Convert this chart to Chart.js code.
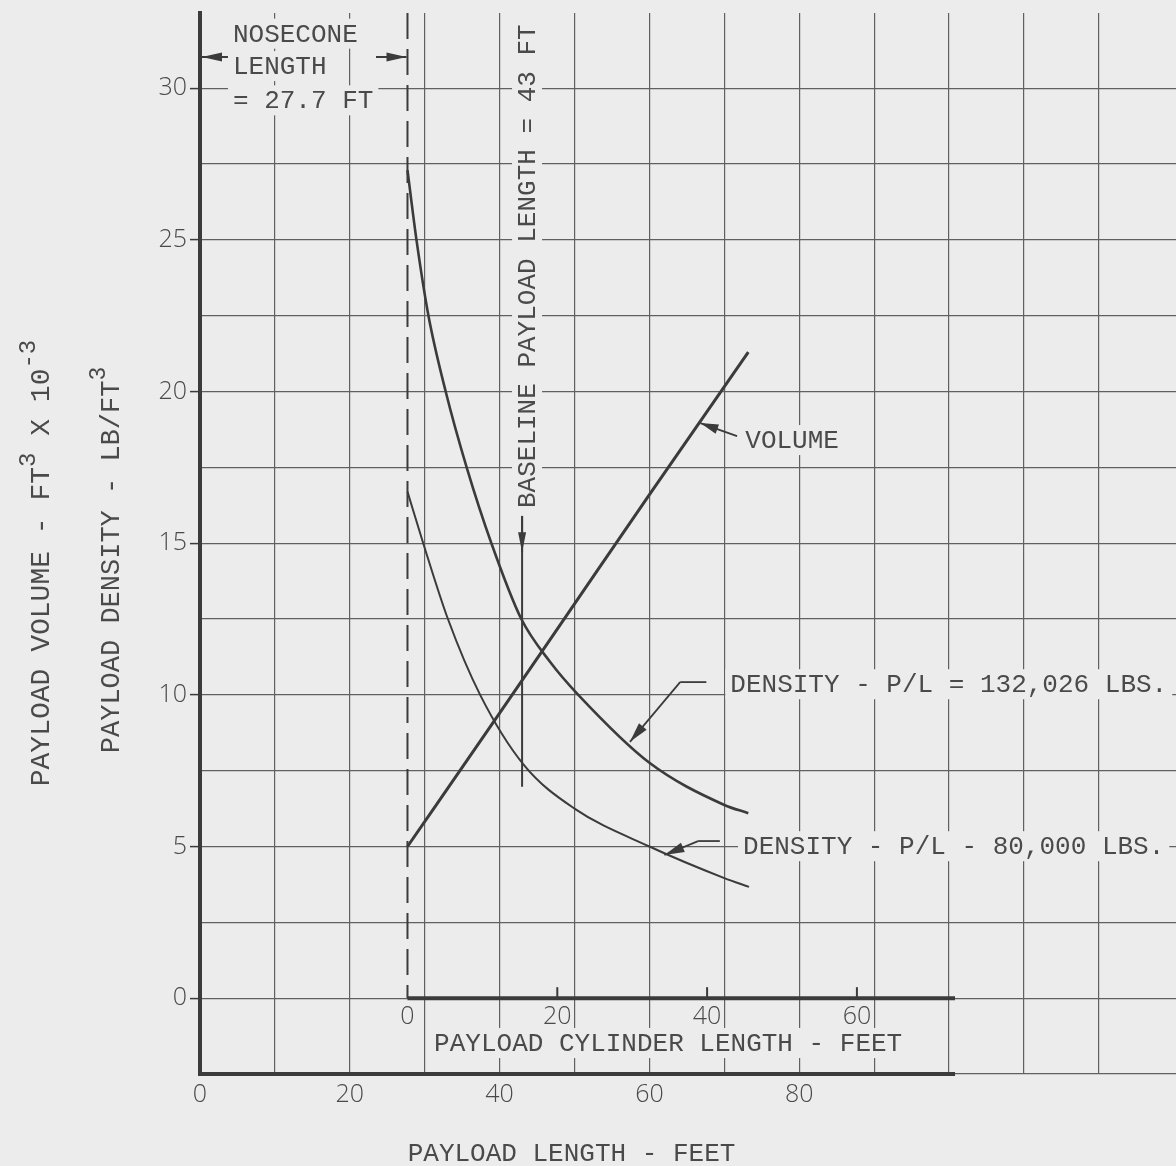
<!DOCTYPE html>
<html>
<head>
<meta charset="utf-8">
<title>Payload density and volume vs payload length</title>
<script src="https://cdn.jsdelivr.net/npm/chart.js@4.4.1/dist/chart.umd.min.js"></script>
<style>
  html, body { margin: 0; padding: 0; background: #ececec; }
</style>
</head>
<body>
<canvas id="chart" width="1176" height="1166"></canvas>
<script>
// payload length (ft, from the nose tip) and the three curves read along it
var volumeLength = [27.7, 40, 50, 60, 73.2];
var volume = [5.0, 9.4, 13.0, 16.6, 21.3];            // ft^3 x 10^-3

var dens132Length = [27.7, 28.9, 30.5, 32.8, 35.6, 38.9, 42.9, 46.7, 50.5, 60, 70, 73.2];
var dens132 = [27.3, 25, 22.5, 20, 17.5, 15, 12.5, 11.1, 10, 7.76, 6.37, 6.1];   // lb/ft^3

var dens80Length = [27.7, 29.8, 33.1, 37.4, 43.2, 50, 60, 70, 73.3];
var dens80 = [16.7, 15, 12.5, 10, 7.7, 6.25, 5.0, 3.96, 3.67];                    // lb/ft^3

var noseconeLength = 27.7;
var baselineLength = 43;

// tick labels
var lengthLabels = [0, 20, 40, 60, 80];
var cylinderLabels = [0, 20, 40, 60];
var valueLabels = [0, 5, 10, 15, 20, 25, 30];

var INK = '#3b3b3b';
var GRID = '#606060';
var TEXT = '#4a4a4a';
var BG = '#ececec';
var TYPE = "'Liberation Mono', 'DejaVu Sans Mono', monospace";
var LETTERING = { family: "'Open Sans', 'DejaVu Sans', sans-serif", size: 25, weight: '300' };

function pairs(xs, ys) {
  return xs.map(function (v, i) { return { x: v, y: ys[i] }; });
}

function steps(from, to, step) {
  var out = [];
  for (var v = from; v <= to + 1e-9; v += step) out.push({ value: Math.round(v * 10) / 10 });
  return out;
}

function noPadding(scale) {
  scale.paddingLeft = scale.paddingRight = scale.paddingTop = scale.paddingBottom = 0;
}

// line with a filled head at (x2, y2)
function arrow(ctx, x1, y1, x2, y2, len, half) {
  len = len || 18; half = half || 4.5;
  var a = Math.atan2(y2 - y1, x2 - x1);
  ctx.beginPath();
  ctx.moveTo(x1, y1);
  ctx.lineTo(x2, y2);
  ctx.stroke();
  ctx.beginPath();
  ctx.moveTo(x2, y2);
  ctx.lineTo(x2 - len * Math.cos(a) + half * Math.sin(a), y2 - len * Math.sin(a) - half * Math.cos(a));
  ctx.lineTo(x2 - len * Math.cos(a) - half * Math.sin(a), y2 - len * Math.sin(a) + half * Math.cos(a));
  ctx.closePath();
  ctx.fill();
}

// typed text on a cleared patch of the grid
function typed(ctx, text, x, y, align) {
  ctx.font = '26px ' + TYPE;
  ctx.textAlign = align || 'left';
  ctx.textBaseline = 'middle';
  var w = ctx.measureText(text).width;
  var left = align === 'center' ? x - w / 2 : x;
  ctx.fillStyle = BG;
  ctx.fillRect(left - 5, y - 15, w + 10, 30);
  ctx.fillStyle = TEXT;
  ctx.fillText(text, x, y + 1);
}

// centred text with raised parts, optionally turned to read bottom-up
function rich(ctx, parts, cx, cy, size, turned) {
  var sup = Math.round(size * 0.85);
  ctx.save();
  ctx.translate(cx, cy);
  if (turned) ctx.rotate(-Math.PI / 2);
  ctx.textAlign = 'left';
  ctx.textBaseline = 'middle';
  var total = 0;
  parts.forEach(function (p) {
    ctx.font = (p.sup ? sup : size) + 'px ' + TYPE;
    p.w = ctx.measureText(p.t).width;
    total += p.w;
  });
  var x = -total / 2;
  ctx.fillStyle = TEXT;
  parts.forEach(function (p) {
    ctx.font = (p.sup ? sup : size) + 'px ' + TYPE;
    ctx.fillText(p.t, x, p.sup ? -12 : 1);
    x += p.w;
  });
  ctx.restore();
}

var sheet = {
  id: 'sheet',
  beforeDraw: function (chart) {
    var ctx = chart.ctx;
    ctx.save();
    ctx.fillStyle = BG;
    ctx.fillRect(0, 0, chart.width, chart.height);
    ctx.restore();
  },
  afterDatasetsDraw: function (chart) {
    var ctx = chart.ctx;
    var x = chart.scales.x, y = chart.scales.y;
    var px = function (v) { return x.getPixelForValue(v); };
    var py = function (v) { return y.getPixelForValue(v); };
    var axisEnd = 100.8;

    ctx.save();
    ctx.strokeStyle = INK;
    ctx.fillStyle = INK;
    ctx.lineCap = 'butt';

    // heavy base lines for both length scales
    ctx.lineWidth = 4;
    ctx.beginPath();
    ctx.moveTo(px(0) - 2, py(-2.5));
    ctx.lineTo(px(axisEnd), py(-2.5));
    ctx.moveTo(px(noseconeLength), py(0));
    ctx.lineTo(px(axisEnd), py(0));
    ctx.stroke();

    // cylinder scale tick marks
    ctx.lineWidth = 2;
    cylinderLabels.slice(1).forEach(function (c) {
      ctx.beginPath();
      ctx.moveTo(px(noseconeLength + c), py(0));
      ctx.lineTo(px(noseconeLength + c), py(0) - 11);
      ctx.stroke();
    });

    // nosecone end, dashed
    ctx.setLineDash([26, 10]);
    ctx.beginPath();
    ctx.moveTo(px(noseconeLength), chart.chartArea.top);
    ctx.lineTo(px(noseconeLength), py(0));
    ctx.stroke();
    ctx.setLineDash([]);

    // baseline payload length marker
    ctx.lineWidth = 2;
    ctx.beginPath();
    ctx.moveTo(px(baselineLength), py(15.9));
    ctx.lineTo(px(baselineLength), py(6.97));
    ctx.stroke();
    arrow(ctx, px(baselineLength), py(15.9), px(baselineLength), py(14.7), 20, 4);

    // nosecone length arrows
    arrow(ctx, px(4.3), py(31.03), px(0) + 2, py(31.03), 20, 4.5);
    arrow(ctx, px(23.5), py(31.03), px(noseconeLength) - 1, py(31.03), 20, 4.5);

    // leaders to the curves
    ctx.lineWidth = 1.8;
    arrow(ctx, px(71.7), py(18.53), px(66.8), py(18.96), 18, 5);
    ctx.beginPath();
    ctx.moveTo(px(67.6), py(10.42));
    ctx.lineTo(px(64.1), py(10.42));
    ctx.stroke();
    arrow(ctx, px(64.1), py(10.42), px(57.4), py(8.45), 20, 5);
    ctx.beginPath();
    ctx.moveTo(px(69.4), py(5.18));
    ctx.lineTo(px(66.5), py(5.18));
    ctx.stroke();
    arrow(ctx, px(66.5), py(5.18), px(62.0), py(4.72), 20, 5);

    // notes
    typed(ctx, 'NOSECONE', px(4.4), py(31.8));
    typed(ctx, 'LENGTH', px(4.4), py(30.73));
    typed(ctx, '= 27.7 FT', px(4.4), py(29.6));
    typed(ctx, 'VOLUME', px(72.8), py(18.4));
    typed(ctx, 'DENSITY - P/L = 132,026 LBS.', px(70.8), py(10.35));
    typed(ctx, 'DENSITY - P/L - 80,000 LBS.', px(72.5), py(5.01));
    typed(ctx, 'PAYLOAD CYLINDER LENGTH - FEET', px(62.5), py(-1.48), 'center');

    // baseline note, reading upward
    ctx.save();
    ctx.translate(px(43.66), py(16.16));
    ctx.rotate(-Math.PI / 2);
    typed(ctx, 'BASELINE PAYLOAD LENGTH = 43 FT', 0, 0);
    ctx.restore();

    // axis titles
    rich(ctx, [{ t: 'PAYLOAD LENGTH - FEET' }], px(49.6), 1153, 26, false);
    rich(ctx, [{ t: 'PAYLOAD DENSITY - LB/FT' }, { t: '3', sup: true }], 111, 560, 27, true);
    rich(ctx, [{ t: 'PAYLOAD VOLUME - FT' }, { t: '3', sup: true }, { t: ' X 10' }, { t: '-3', sup: true }], 41, 563, 28, true);

    ctx.restore();
  }
};

new Chart(document.getElementById('chart'), {
  type: 'scatter',
  data: {
    datasets: [{
      label: 'Volume',
      data: pairs(volumeLength, volume),
      borderColor: INK,
      borderWidth: 3
    }, {
      label: 'Density - P/L = 132,026 lbs',
      data: pairs(dens132Length, dens132),
      borderColor: INK,
      borderWidth: 2.6
    }, {
      label: 'Density - P/L - 80,000 lbs',
      data: pairs(dens80Length, dens80),
      borderColor: INK,
      borderWidth: 2
    }]
  },
  options: {
    responsive: false,
    animation: false,
    devicePixelRatio: 1,
    showLine: true,
    layout: { padding: { top: 13, left: 0, right: 0, bottom: 0 } },
    elements: {
      point: { radius: 0, hoverRadius: 0 },
      line: { cubicInterpolationMode: 'monotone', fill: false }
    },
    plugins: {
      legend: { display: false },
      tooltip: { enabled: false }
    },
    scales: {
      x: {
        type: 'linear',
        position: 'bottom',
        min: 0,
        max: 130.3,
        afterBuildTicks: function (s) { s.ticks = steps(0, 120, 10); },
        afterFit: function (s) { s.height = 92; noPadding(s); },
        grid: { color: GRID, lineWidth: 1.2, drawTicks: false },
        border: { display: false },
        ticks: {
          autoSkip: false,
          maxRotation: 0,
          padding: 6,
          color: TEXT,
          font: LETTERING,
          callback: function (v) { return lengthLabels.indexOf(v) >= 0 ? String(v) : ''; }
        }
      },
      cyl: {
        type: 'linear',
        axis: 'x',
        position: { y: 0 },
        min: -noseconeLength,
        max: 130.3 - noseconeLength,
        afterBuildTicks: function (s) {
          s.ticks = cylinderLabels.map(function (v) { return { value: v }; });
        },
        afterFit: noPadding,
        grid: { display: false, drawTicks: false },
        border: { display: false },
        ticks: {
          autoSkip: false,
          maxRotation: 0,
          padding: 4,
          color: TEXT,
          font: LETTERING
        }
      },
      y: {
        type: 'linear',
        position: 'left',
        min: -2.5,
        max: 32.48,
        afterBuildTicks: function (s) { s.ticks = steps(-2.5, 30, 2.5); },
        afterFit: function (s) { s.width = 200; noPadding(s); },
        grid: {
          color: GRID,
          lineWidth: 1.2,
          tickLength: 10,
          tickWidth: 1.5,
          tickColor: function (c) {
            return c.tick && valueLabels.indexOf(c.tick.value) >= 0 ? INK : 'rgba(0,0,0,0)';
          }
        },
        border: { display: true, color: INK, width: 4 },
        ticks: {
          autoSkip: false,
          padding: 3,
          color: TEXT,
          font: LETTERING,
          callback: function (v) { return valueLabels.indexOf(v) >= 0 ? String(v) : ''; }
        }
      }
    }
  },
  plugins: [sheet]
});
</script>
</body>
</html>
